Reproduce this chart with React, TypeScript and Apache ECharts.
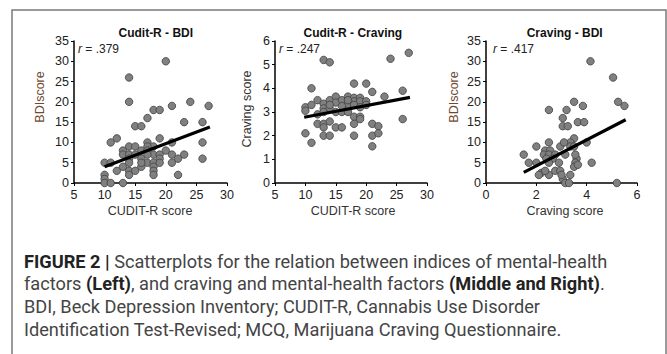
import React, { useEffect, useRef } from "react";
import * as echarts from "echarts";

const panelTitles = ["Cudit-R - BDI", "Cudit-R - Craving", "Craving - BDI"];
const rValues = [".379", ".247", ".417"];
const xNames = ["CUDIT-R score", "CUDIT-R score", "Craving score"];
const yNames = ["BDIscore", "Craving score", "BDIscore"];

const cuditBdi: number[][] = [
  [20, 30], [14, 26], [14, 20], [24, 20], [21, 19], [27, 19], [18, 18], [19, 18], [17, 16],
  [15, 14], [16, 14], [23, 15], [26, 15], [12, 11], [19, 11], [11, 10], [17, 10], [21, 10],
  [26, 10], [14, 9], [15, 9], [18, 9], [13, 8], [16, 8], [20, 8], [17, 9], [13, 7], [14, 7],
  [18, 7], [19, 7], [21, 7], [23, 7], [14, 6], [16, 6], [19, 6], [22, 6], [26, 6], [10, 5],
  [11, 5], [14, 5], [17, 5], [18, 5], [19, 5], [21, 5], [13, 4], [16, 4], [18, 4], [12, 3],
  [14, 3], [15, 3], [18, 3], [10, 2], [14, 2], [18, 2], [22, 2], [10, 1], [10, 0], [11, 0],
  [13, 0], [17, 8], [15, 7], [16, 5], [17, 7],
];

const cuditCraving: number[][] = [
  [27, 5.5], [24, 5.25], [13, 5.2], [14, 5.1], [11, 4.0], [18, 4.2], [20, 4.2], [21, 3.85],
  [26, 3.9], [23, 3.65], [10, 3.2], [10, 3.05], [11, 3.3], [12, 3.5], [13, 3.35], [13, 3.15],
  [14, 3.5], [14, 3.15], [15, 3.65], [15, 3.4], [16, 3.5], [17, 3.65], [18, 3.6], [18, 3.45],
  [19, 3.6], [19, 3.45], [20, 3.45], [15, 3.0], [16, 3.0], [17, 3.0], [17, 3.3], [16, 3.25],
  [18, 3.3], [19, 3.2], [20, 3.3], [12, 2.9], [13, 3.0], [12, 2.5], [13, 2.5], [14, 2.6],
  [13, 2.35], [15, 2.35], [16, 2.35], [18, 2.8], [19, 2.8], [18, 2.5], [19, 2.7], [21, 2.5],
  [22, 2.4], [26, 2.7], [10, 2.1], [13, 2.0], [14, 2.0], [18, 2.0], [21, 2.0], [22, 2.1],
  [11, 1.7], [21, 1.55], [14, 3.3], [17, 3.5],
];

const cravingBdi: number[][] = [
  [4.15, 30], [5.05, 26], [5.25, 20], [5.5, 19], [3.5, 20], [3.85, 19], [2.5, 18], [3.2, 18],
  [3.05, 16], [3.05, 14], [3.25, 14], [3.65, 15], [3.9, 15], [3.5, 11], [3.35, 10], [4.0, 10],
  [2.5, 10], [2.0, 9], [1.5, 7], [1.7, 5], [2.0, 5], [2.35, 8], [2.55, 8], [2.3, 7], [2.5, 7],
  [2.75, 7], [2.4, 6], [2.65, 6], [2.5, 5], [2.2, 2.5], [2.5, 2], [2.1, 2], [2.75, 3],
  [2.95, 3], [3.15, 7], [3.35, 9], [3.5, 9], [3.6, 6], [3.55, 7], [3.55, 5], [3.5, 4],
  [3.65, 4.5], [3.35, 2], [3.05, 1], [3.15, 0], [3.3, 0], [4.2, 5], [5.2, 0], [2.95, 9],
  [3.1, 10], [2.35, 3], [2.9, 5], [3.0, 2],
];

const trend1: number[][] = [[10, 4], [27.2, 13.8]];
const trend2: number[][] = [[9.8, 2.78], [27.2, 3.62]];
const trend3: number[][] = [[1.5, 2.6], [5.55, 15.6]];

const xRanges = [[5, 30, 5], [5, 30, 5], [0, 6, 2]];
const yRanges = [[0, 35, 5], [0, 6, 1], [0, 35, 5]];

const gridLefts = [74, 275, 486];
const gridWidths = [153, 152, 151];
const titleX = [155.8, 352.8, 564.7];
const rX = [78, 279, 493];
const yNameX = [40, 246.7, 454];
const yNameY = [97, 109, 97];
const yNameColor = ["#6e4a30", "#333333", "#6e4a30"];
const xNameX = [150, 353, 565];

const FONT = "'Liberation Sans', Arial, sans-serif";
const CAP_FONT = "Roboto, sans-serif";

export default function App() {
  const ref = useRef<HTMLDivElement>(null);
  useEffect(() => {
    if (!ref.current) return;
    const chart = echarts.init(ref.current, undefined, { renderer: "svg" });
    const datasets = [cuditBdi, cuditCraving, cravingBdi];
    const trends = [trend1, trend2, trend3];

    const axisCommon = {
      type: "value",
      splitLine: { show: false },
      axisLine: { show: true, onZero: false, lineStyle: { color: "#000", width: 1.5 } },
      axisTick: { show: true, length: 3, inside: false, lineStyle: { color: "#000", width: 1 } },
      axisLabel: { fontSize: 12.5, color: "#222", fontFamily: FONT, margin: 5 },
    };

    const graphics: any[] = [
      {
        type: "rect",
        shape: { x: 12, y: 10, width: 654, height: 400 },
        style: { fill: "none", stroke: "#7a7a7a", lineWidth: 1.5 },
        silent: true,
      },
    ];
    for (let i = 0; i < 3; i++) {
      graphics.push({
        type: "text",
        x: titleX[i],
        y: 33,
        style: {
          text: panelTitles[i],
          font: `bold 12px ${FONT}`,
          fill: "#111",
          align: "center",
          verticalAlign: "middle",
        },
      });
      graphics.push({
        type: "text",
        x: rX[i],
        y: 49,
        style: {
          text: `{i|r} = ${rValues[i]}`,
          font: `12px ${FONT}`,
          fill: "#222",
          align: "left",
          verticalAlign: "middle",
          rich: { i: { fontStyle: "italic", fontSize: 12, fontFamily: FONT, fill: "#222" } },
        },
      });
      graphics.push({
        type: "text",
        x: yNameX[i],
        y: yNameY[i],
        rotation: Math.PI / 2,
        style: {
          text: yNames[i],
          font: `12.5px ${FONT}`,
          fill: yNameColor[i],
          align: "center",
          verticalAlign: "middle",
        },
      });
      graphics.push({
        type: "text",
        x: xNameX[i],
        y: 211,
        style: {
          text: xNames[i],
          font: `12.5px ${FONT}`,
          fill: "#333",
          align: "center",
          verticalAlign: "middle",
        },
      });
    }

    const capLines = [
      "{b|FIGURE 2 |} Scatterplots for the relation between indices of mental-health",
      "factors {b|(Left)}, and craving and mental-health factors {b|(Middle and Right)}.",
      "BDI, Beck Depression Inventory; CUDIT-R, Cannabis Use Disorder",
      "Identification Test-Revised; MCQ, Marijuana Craving Questionnaire.",
    ];
    const capY = [261, 283.5, 306.5, 329];
    capLines.forEach((t, k) => {
      graphics.push({
        type: "text",
        x: 24,
        y: capY[k],
        style: {
          text: t,
          font: `18.2px ${CAP_FONT}`,
          fill: "#444",
          align: "left",
          verticalAlign: "middle",
          rich: {
            b: { fontWeight: "bold", fontSize: 18.2, fontFamily: CAP_FONT, fill: "#222" },
          },
        },
      });
    });

    const option: any = {
      animation: false,
      backgroundColor: "#fff",
      grid: [0, 1, 2].map((i) => ({
        left: gridLefts[i],
        top: 41,
        width: gridWidths[i],
        height: 142,
        containLabel: false,
      })),
      xAxis: [0, 1, 2].map((i) => ({
        ...axisCommon,
        gridIndex: i,
        min: xRanges[i][0],
        max: xRanges[i][1],
        interval: xRanges[i][2],
      })),
      yAxis: [0, 1, 2].map((i) => ({
        ...axisCommon,
        gridIndex: i,
        min: yRanges[i][0],
        max: yRanges[i][1],
        interval: yRanges[i][2],
      })),
      series: [
        ...[0, 1, 2].map((i) => ({
          type: "scatter",
          xAxisIndex: i,
          yAxisIndex: i,
          data: datasets[i],
          symbol: "circle",
          symbolSize: 7.5,
          itemStyle: { color: "#808080", borderColor: "#404040", borderWidth: 0.8, opacity: 1 },
          z: 2,
        })),
        ...[0, 1, 2].map((i) => ({
          type: "line",
          xAxisIndex: i,
          yAxisIndex: i,
          data: trends[i],
          symbol: "none",
          lineStyle: { color: "#000", width: 3.2 },
          z: 3,
        })),
      ],
      graphic: graphics,
    };
    chart.setOption(option);
    return () => chart.dispose();
  }, []);
  return (
    <div
      ref={ref}
      style={{ position: "fixed", left: 0, top: 0, width: 667, height: 354, background: "#fff" }}
    />
  );
}
